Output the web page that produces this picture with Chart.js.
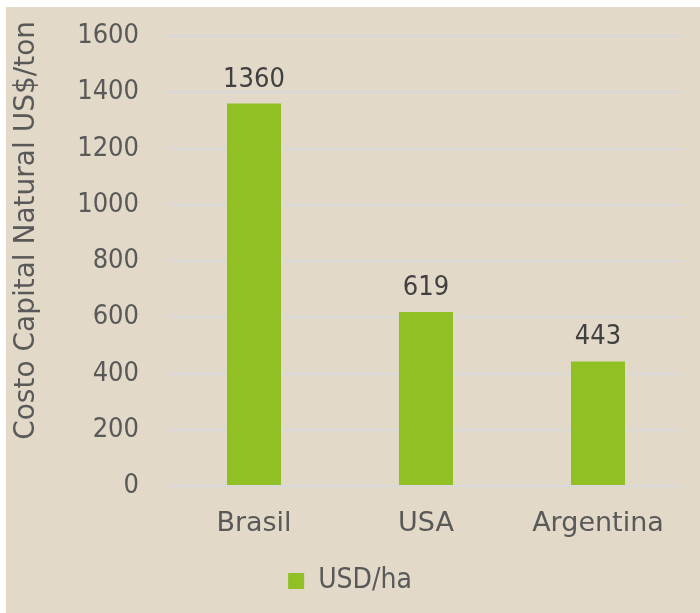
<!DOCTYPE html>
<html>
<head>
<meta charset="utf-8">
<script src="https://cdn.jsdelivr.net/npm/chart.js@4.4.1/dist/chart.umd.min.js"></script>
<style>
  html, body { margin: 0; padding: 0; background: #ffffff; }
  #box { position: absolute; left: 6px; top: 7px; width: 694px; height: 606px; background: #e2d9c8; }
  canvas { display: block; }
</style>
</head>
<body>
<div id="box"><canvas id="chart" width="694" height="606"></canvas></div>
<script>
const countries = ['Brasil', 'USA', 'Argentina'];
const costValues = [1360, 619, 443];
const seriesName = 'USD/ha';
const axisTitle = 'Costo Capital Natural US$/ton';

const wideFont = '"DejaVu Sans", sans-serif';
const narrowFont = '"DejaVu Sans Condensed", "DejaVu Sans", sans-serif';
const textColor = '#595959';

// numbers above the bars
const barLabels = {
    id: 'barLabels',
    afterDatasetsDraw(chart) {
        const ctx = chart.ctx;
        const meta = chart.getDatasetMeta(0);
        ctx.save();
        ctx.font = '27px ' + narrowFont;
        ctx.fillStyle = '#404040';
        ctx.textAlign = 'center';
        ctx.textBaseline = 'alphabetic';
        meta.data.forEach(function (bar, i) {
            ctx.fillText(String(chart.data.datasets[0].data[i]), bar.x, bar.y - 17);
        });
        ctx.restore();
    }
};

// vertical axis title, sits a bit above the middle of the plot like the original
const yTitle = {
    id: 'yTitle',
    afterDraw(chart) {
        const ctx = chart.ctx;
        ctx.save();
        ctx.font = '28px ' + wideFont;
        ctx.fillStyle = textColor;
        ctx.textAlign = 'center';
        ctx.textBaseline = 'middle';
        ctx.translate(21, chart.chartArea.top + chart.chartArea.height * 0.432);
        ctx.rotate(-Math.PI / 2);
        ctx.fillText(axisTitle, 0, 0);
        ctx.restore();
    }
};

// nudge the legend a little to the right
const legendShift = {
    id: 'legendShift',
    afterLayout(chart) {
        chart.legend.left += 5;
        chart.legend.right += 5;
    }
};

new Chart(document.getElementById('chart').getContext('2d'), {
    type: 'bar',
    data: {
        labels: countries,
        datasets: [{
            label: seriesName,
            data: costValues,
            backgroundColor: '#90c024',
            borderWidth: 0,
            categoryPercentage: 1,
            barPercentage: 0.314,
        }]
    },
    plugins: [barLabels, yTitle, legendShift],
    options: {
        responsive: false,
        animation: false,
        layout: {
            padding: { top: 29, right: 16, bottom: 8, left: 0 }
        },
        plugins: {
            tooltip: { enabled: false },
            legend: {
                position: 'bottom',
                labels: {
                    boxWidth: 16,
                    boxHeight: 16,
                    padding: 10,
                    color: textColor,
                    font: { family: narrowFont, size: 28 },
                }
            }
        },
        scales: {
            x: {
                afterFit: function (scale) { scale.height = 71; },
                grid: { display: false, drawTicks: false },
                border: { display: false },
                ticks: {
                    padding: 22,
                    color: textColor,
                    font: { family: wideFont, size: 27 },
                }
            },
            y: {
                min: 0,
                max: 1600,
                afterFit: function (scale) { scale.width = 162; },
                // invisible tick marks give the gap between labels and plot
                grid: { color: '#d8d8d8', lineWidth: 2, drawTicks: true, tickLength: 29, tickColor: 'rgba(0,0,0,0)' },
                border: { display: false },
                ticks: {
                    stepSize: 200,
                    padding: 0,
                    color: textColor,
                    font: { family: narrowFont, size: 27 },
                    callback: function (value) { return String(value); },
                }
            }
        }
    }
});
</script>
</body>
</html>
